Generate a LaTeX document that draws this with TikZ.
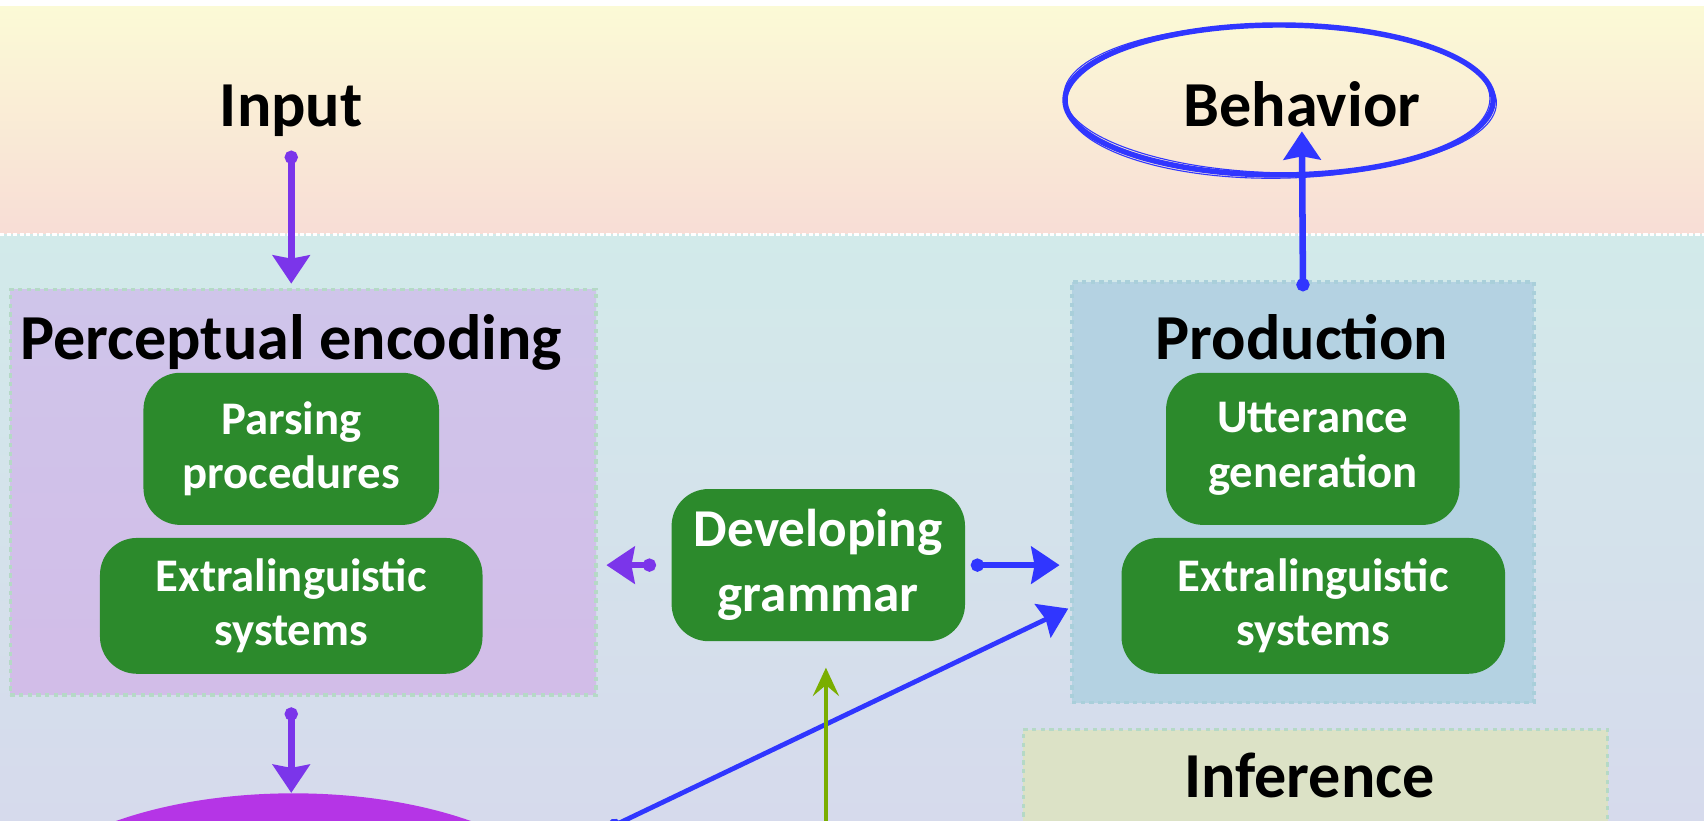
\documentclass[tikz,border=0pt]{standalone}
\usepackage{fontspec}
\setmainfont{Carlito}
\usetikzlibrary{arrows.meta,shapes.geometric,calc}
\definecolor{topY}{HTML}{FBFAD6}
\definecolor{topP}{HTML}{F8DDD6}
\definecolor{lowA}{HTML}{D2EAEA}
\definecolor{lowM}{HTML}{D4E1EA}
\definecolor{lowB}{HTML}{D6DAEC}
\definecolor{percF}{HTML}{CFC5EA}
\definecolor{percF2}{HTML}{D2BDE8}
\definecolor{prodF}{HTML}{B4D2E2}
\definecolor{infF}{HTML}{DCE2C6}
\definecolor{dotG}{HTML}{B5D9C6}
\definecolor{dotB}{HTML}{A9CFDA}
\definecolor{boxG}{HTML}{2C8A2C}
\definecolor{purA}{HTML}{7B35EA}
\definecolor{bluA}{HTML}{3036FF}
\definecolor{olvA}{HTML}{7AAE00}
\definecolor{memP}{HTML}{B535E6}
\tikzset{
  panel/.style={draw=dotG, line width=1.5pt, dash pattern=on 2pt off 2pt, inner sep=0pt, anchor=north west},
  lbl/.style={font=\fontsize{29.5}{32}\selectfont\bfseries, inner sep=0pt, anchor=base},
  gbox/.style={fill=boxG, rounded corners=17pt, text=white, align=center, inner sep=0pt,
    font=\fontsize{21.5}{25}\selectfont\bfseries},
  arr/.style={line width=3pt, line cap=round,
    {Circle[length=6pt,width=6pt]}-{Stealth[length=13pt,width=17pt,inset=1.5pt]}},
  parr/.style={arr, draw=purA, fill=purA},
  barr/.style={arr, draw=bluA, fill=bluA},
  garr/.style={line width=2.2pt, draw=olvA, -{Stealth[length=13pt,width=12pt,inset=5pt]}}
}
\begin{document}
\begin{tikzpicture}[x=0.5pt,y=-0.5pt]
\useasboundingbox (0,0) rectangle (1568,755);
\clip (0,0) rectangle (1568,755);
% backgrounds
\fill[white] (0,0) rectangle (1568,755);
\shade[top color=topY, bottom color=topP] (0,6) rectangle (1568,216);
\shade[top color=lowA, middle color=lowM, bottom color=lowB] (0,216) rectangle (1568,755);
\draw[white, line width=1.5pt, dash pattern=on 2pt off 1pt] (0,216) -- (1568,216);
% panels
\node[panel, top color=percF, bottom color=percF2, minimum width=269.5pt, minimum height=186.5pt] (perc) at (8,265) {};
\node[panel, draw=dotB, fill=prodF, minimum width=212.5pt, minimum height=193.5pt] (prod) at (985,258) {};
\node[panel, fill=infF, minimum width=269pt, minimum height=100pt] (inf) at (940,670) {};
% labels
\node[lbl] (input) at (268,116) {Input};
\node[lbl] (behavior) at (1198,116) {Behavior};
\node[lbl] (perct) at (268,331) {Perceptual encoding};
\node[lbl] (prodt) at (1198,331) {Production};
\node[lbl] (inft) at (1205,734) {Inference};
% behavior ellipse (sketchy)
\draw[bluA, line width=2.5pt] (1177,92) ellipse [x radius=197, y radius=69];
\draw[bluA, line width=0.5pt, rotate around={-1.2:(1177,92)}] (1178,91) ellipse [x radius=199, y radius=68];
\draw[bluA, line width=0.5pt, rotate around={0.8:(1177,92)}] (1176,93) ellipse [x radius=195, y radius=71];
% green boxes
\node[gbox, minimum width=136pt, minimum height=70pt] (parse) at (268,413) {Parsing\\procedures};
\node[gbox, minimum width=176pt, minimum height=62.5pt] (extl) at (268,557.5) {Extralinguistic\\systems};
\node[gbox, minimum width=135pt, minimum height=70pt, font=\fontsize{24.5}{30}\selectfont\bfseries] (dev) at (753,520) {Developing\\grammar};
\node[gbox, minimum width=135pt, minimum height=70pt] (utt) at (1208,413) {Utterance\\generation};
\node[gbox, minimum width=176.5pt, minimum height=62.5pt] (extr) at (1208.5,557.5) {Extralinguistic\\systems};
% purple blob
\node[ellipse, fill=memP, inner sep=0pt, minimum width=265pt, minimum height=120pt] (mem) at (270,850) {};
% free ends
\coordinate (dstart) at (560,762);
\coordinate (gstart) at (760,762);
% arrows
\draw[parr] ($(input.south)+(0,13)$) -- ($(perc.north -| input.south)+(0,-4)$);
\draw[parr] ($(dev.west)+(-14,0)$) -- ($(perc.east |- dev.west)+(8,0)$);
\draw[barr] ($(dev.east)+(5,0)$) -- ($(prod.west |- dev.east)+(-10,0)$);
\draw[barr, line width=2.2pt] (dstart) -- ($(prod.south west)+(-2,-88)$);
\draw[garr] (gstart) -- ($(dev.south)+(7,24)$);
\draw[parr] ($(input.south |- perc.south)+(0,10)$) -- (input.south |- mem.north);
\draw[barr] ($(prod.north)+(0,10)$) -- ($(behavior.south)+(0,4)$);
\end{tikzpicture}
\end{document}
